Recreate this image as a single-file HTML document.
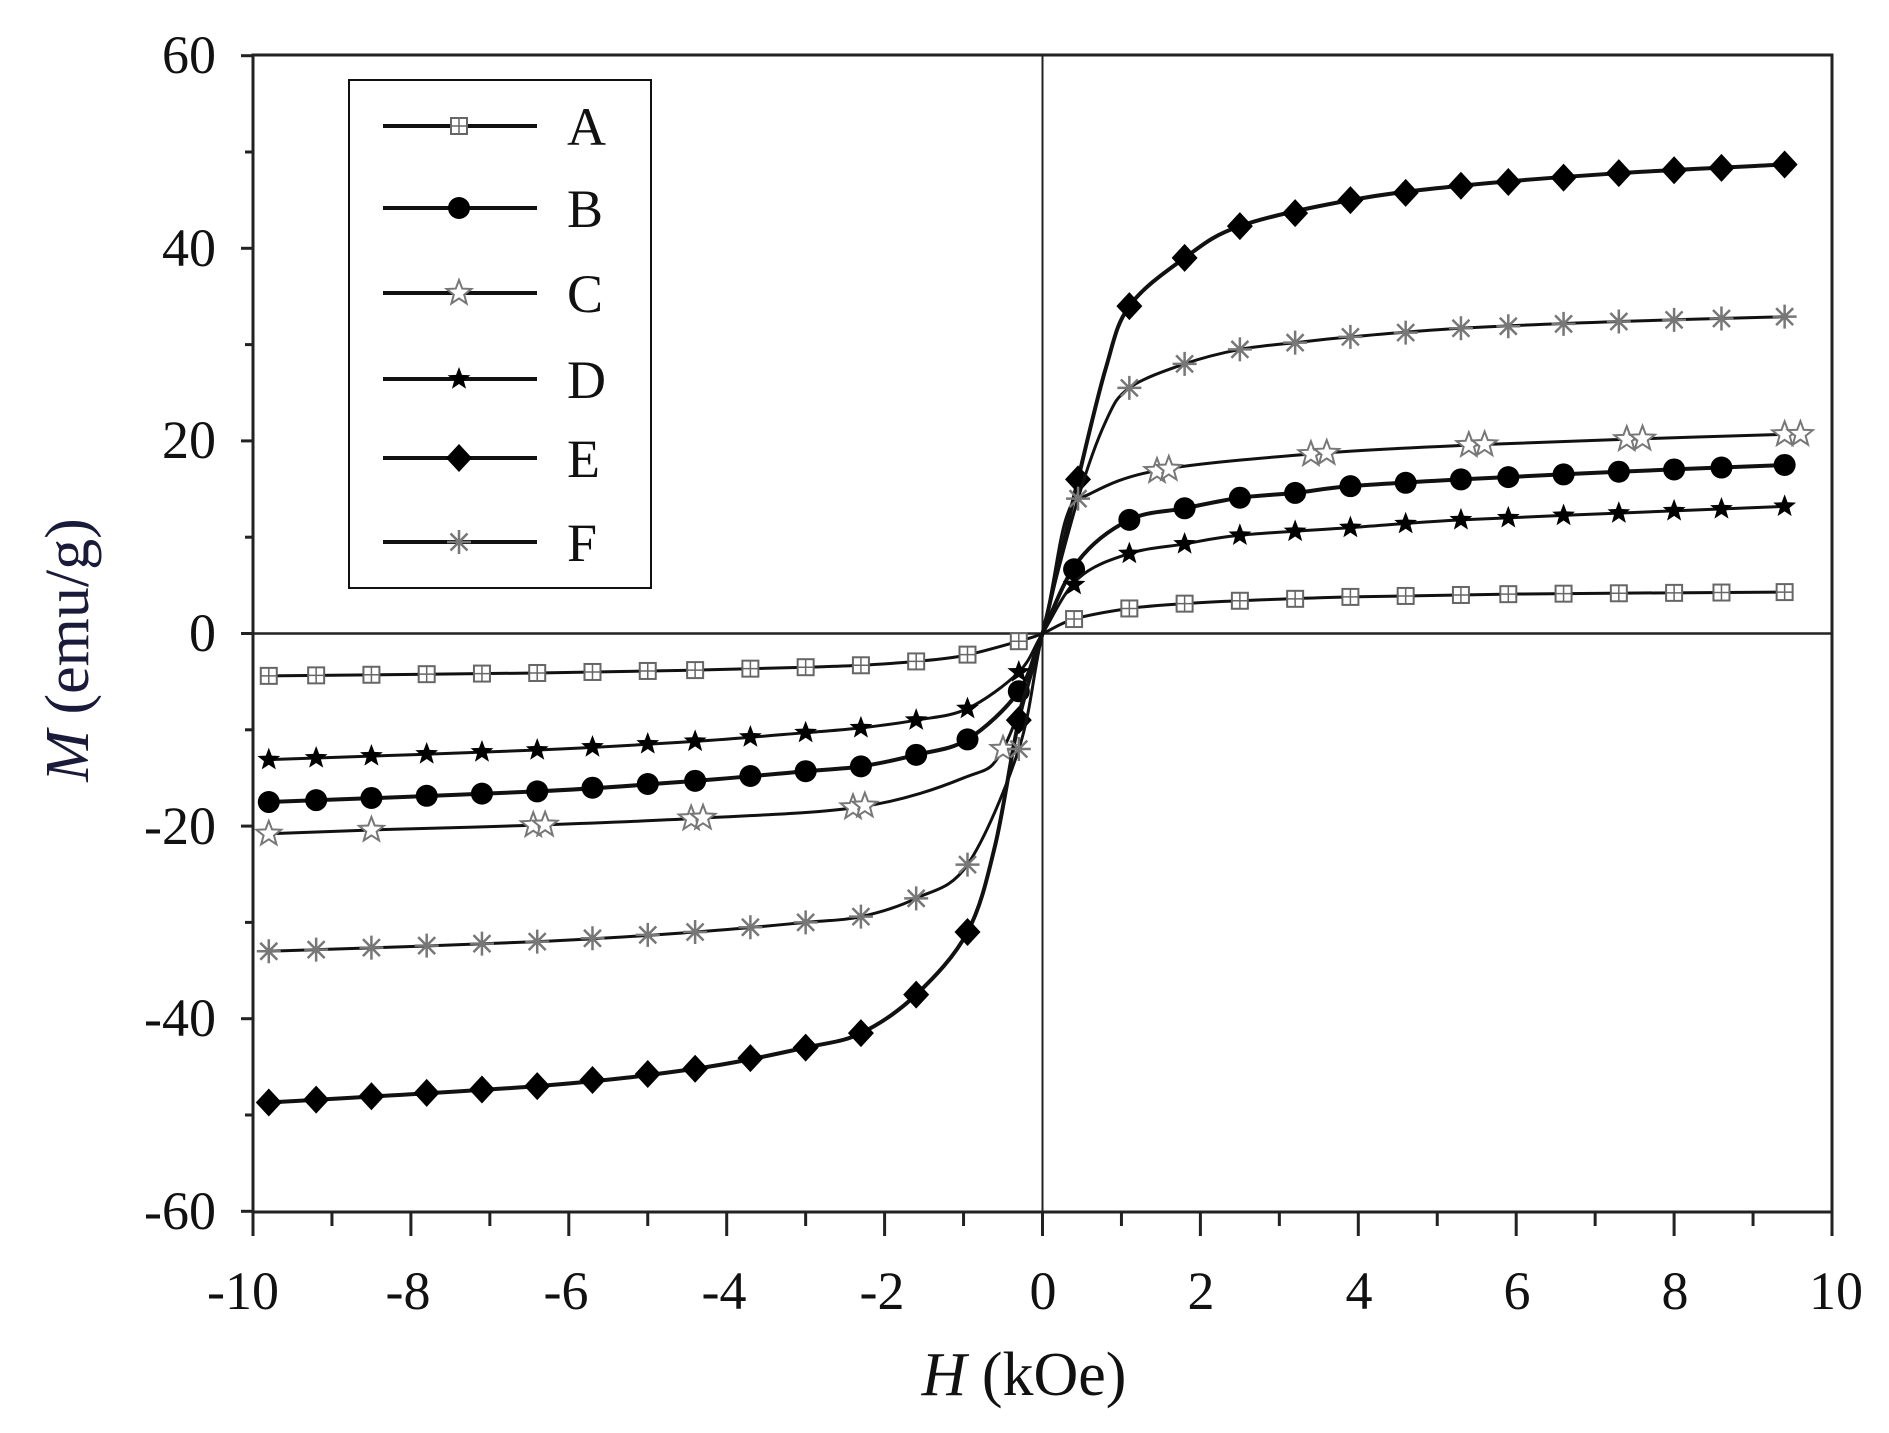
<!DOCTYPE html>
<html><head><meta charset="utf-8"><style>
html,body{margin:0;padding:0;background:#fff;}
svg{display:block;}
text{font-family:"Liberation Serif",serif;fill:#111;}
</style></head><body>
<svg id="s" width="1889" height="1433" viewBox="0 0 1889 1433" xmlns="http://www.w3.org/2000/svg">
<rect x="0" y="0" width="1889" height="1433" fill="#fff"/>
<g id="axes"></g>
<g id="curves"></g>
<g font-size="54" text-anchor="end">
<text x="216" y="73">60</text>
<text x="216" y="266">40</text>
<text x="216" y="458">20</text>
<text x="216" y="651">0</text>
<text x="216" y="844">-20</text>
<text x="216" y="1036">-40</text>
<text x="216" y="1229">-60</text>
</g>
<g font-size="54" text-anchor="middle">
<text x="243" y="1309">-10</text>
<text x="408" y="1309">-8</text>
<text x="566" y="1309">-6</text>
<text x="724" y="1309">-4</text>
<text x="882" y="1309">-2</text>
<text x="1043" y="1309">0</text>
<text x="1201" y="1309">2</text>
<text x="1359" y="1309">4</text>
<text x="1517" y="1309">6</text>
<text x="1675" y="1309">8</text>
<text x="1836" y="1309">10</text>
</g>
<text x="1024" y="1395" font-size="62" text-anchor="middle"><tspan font-style="italic">H</tspan> (kOe)</text>
<text transform="translate(88,650) rotate(-90)" font-size="62" text-anchor="middle" style="fill:#1a1a3a"><tspan font-style="italic">M</tspan> (emu/g)</text>
<rect x="349" y="80" width="302" height="508" fill="#fff" stroke="#111" stroke-width="2"/>
<g id="legend"></g>
<g font-size="54">
<text x="567" y="145">A</text>
<text x="567" y="227">B</text>
<text x="567" y="312">C</text>
<text x="567" y="398">D</text>
<text x="567" y="477">E</text>
<text x="567" y="561">F</text>
</g>
</svg>
<script>
const NS="http://www.w3.org/2000/svg";
const X=h=>1042.5+h*78.95, Y=m=>633.5-m*9.63;
function el(p,t,a){const e=document.createElementNS(NS,t);for(const k in a)e.setAttribute(k,a[k]);p.appendChild(e);return e;}
const ax=document.getElementById('axes');
el(ax,'rect',{x:253,y:55,width:1579,height:1157,fill:'none',stroke:'#222','stroke-width':3});
el(ax,'line',{x1:X(0),y1:55,x2:X(0),y2:1212,stroke:'#222','stroke-width':2});
el(ax,'line',{x1:253,y1:Y(0),x2:1832,y2:Y(0),stroke:'#222','stroke-width':2.5});
for(let h=-10;h<=10;h++){const maj=h%2==0;el(ax,'line',{x1:X(h),y1:1212,x2:X(h),y2:1212+(maj?24:14),stroke:'#222','stroke-width':3});}
for(let m=-60;m<=60;m+=10){const maj=m%20==0;el(ax,'line',{x1:253,y1:Y(m),x2:253-(maj?12:8),y2:Y(m),stroke:'#222','stroke-width':3});}
const S={
A:[[-9.8,-4.4],[-6.4,-4.1],[-4.4,-3.8],[-3,-3.5],[-2.3,-3.3],[-1.6,-2.9],[-1,-2.3],[-0.3,-0.8],[0,0],[0.4,1.5],[1.1,2.6],[1.8,3.1],[2.5,3.4],[3.9,3.8],[6,4.1],[9.4,4.3]],
B:[[-9.8,-17.5],[-6.4,-16.4],[-4.4,-15.3],[-3,-14.3],[-2.3,-13.8],[-1.6,-12.6],[-0.95,-11],[-0.3,-6],[0,0],[0.45,7.5],[1.1,11.8],[1.8,13],[2.5,14.1],[3.2,14.6],[3.9,15.3],[5.3,16],[7.3,16.8],[9.4,17.5]],
C:[[-9.8,-20.8],[-8.5,-20.4],[-6.4,-19.9],[-4.4,-19.2],[-2.3,-18],[-1,-15],[-0.5,-12],[0,0],[0.3,12],[0.6,14.5],[1.5,17],[3.5,18.7],[5.5,19.6],[7.5,20.2],[9.5,20.7]],
D:[[-9.8,-13.1],[-6.4,-12.1],[-4.4,-11.2],[-3,-10.3],[-2.3,-9.8],[-1.6,-9],[-0.95,-7.8],[-0.3,-4],[0,0],[0.45,5.7],[1.1,8.3],[1.8,9.3],[2.5,10.2],[3.9,11],[5.3,11.8],[7.3,12.5],[9.4,13.2]],
E:[[-9.8,-48.7],[-6.4,-47],[-4.4,-45.2],[-3,-43],[-2.3,-41.5],[-1.6,-37.5],[-0.95,-31],[-0.6,-22],[-0.3,-9],[0,0],[0.2,7],[0.45,16],[0.8,27.5],[1.1,34],[1.8,39],[2.5,42.3],[3.9,45],[5.3,46.5],[7.3,47.8],[9.4,48.7]],
F:[[-9.8,-33],[-6.4,-32],[-4.4,-31],[-3,-30],[-2.3,-29.4],[-1.6,-27.5],[-0.95,-24],[-0.3,-12],[0,0],[0.45,14],[0.8,22],[1.1,25.5],[1.8,28],[2.5,29.5],[3.2,30.2],[3.9,30.8],[5.3,31.7],[7.3,32.4],[9.4,32.9]]};
function path(pts){const p=pts.map(q=>[X(q[0]),Y(q[1])]);let d=`M${p[0][0]},${p[0][1]}`;
for(let i=0;i<p.length-1;i++){const p0=p[i-1]||p[i],p1=p[i],p2=p[i+1],p3=p[i+2]||p2;
d+=` C${p1[0]+(p2[0]-p0[0])/6},${p1[1]+(p2[1]-p0[1])/6} ${p2[0]-(p3[0]-p1[0])/6},${p2[1]-(p3[1]-p1[1])/6} ${p2[0]},${p2[1]}`;}return d;}
function interp(pts,h){for(let i=0;i<pts.length-1;i++){if(h>=pts[i][0]&&h<=pts[i+1][0]){const t=(h-pts[i][0])/(pts[i+1][0]-pts[i][0]);return pts[i][1]+t*(pts[i+1][1]-pts[i][1]);}}return pts[h<0?0:pts.length-1][1];}
function star(cx,cy,r){let d='';for(let i=0;i<10;i++){const a=-Math.PI/2+i*Math.PI/5,rr=i%2?r*0.42:r;d+=(i?'L':'M')+(cx+rr*Math.cos(a))+','+(cy+rr*Math.sin(a));}return d+'Z';}
function marker(g,k,x,y){
if(k=='A'){el(g,'rect',{x:x-8,y:y-8,width:16,height:16,fill:'#fff',stroke:'#666','stroke-width':2});el(g,'path',{d:`M${x-8},${y}H${x+8}M${x},${y-8}V${y+8}`,stroke:'#666','stroke-width':1.5});}
else if(k=='B')el(g,'circle',{cx:x,cy:y,r:11,fill:'#000'});
else if(k=='C')el(g,'path',{d:star(x,y,13),fill:'#fff',stroke:'#777','stroke-width':2});
else if(k=='D')el(g,'path',{d:star(x,y,12),fill:'#000'});
else if(k=='E')el(g,'path',{d:`M${x},${y-14}L${x+13},${y}L${x},${y+14}L${x-13},${y}Z`,fill:'#000'});
else if(k=='F'){let d='';for(let i=0;i<4;i++){const a=i*Math.PI/4;d+=`M${x-12*Math.cos(a)},${y-12*Math.sin(a)}L${x+12*Math.cos(a)},${y+12*Math.sin(a)}`;}el(g,'path',{d:d,stroke:'#777','stroke-width':2.5});}
}
const cg=document.getElementById('curves');
const pos=[1.1,1.8,2.5,3.2,3.9,4.6,5.3,5.9,6.6,7.3,8.0,8.6,9.4],neg=[-9.8,-9.2,-8.5,-7.8,-7.1,-6.4,-5.7,-5.0,-4.4,-3.7,-3.0,-2.3,-1.6,-0.95];
for(const k of ['A','B','C','D','E','F']){
const w=(k=='E'||k=='B')?4:3;
el(cg,'path',{d:path(S[k]),fill:'none',stroke:'#111','stroke-width':w});
let xs;
if(k=='C')xs=[1.45,1.6,3.4,3.6,5.4,5.6,7.4,7.6,9.4,9.6,-9.8,-8.5,-6.45,-6.3,-4.45,-4.3,-2.4,-2.25,-0.5];
else xs=neg.concat([-0.3,(k=='E'||k=='F')?0.45:0.4]).concat(pos);
for(const h of xs)marker(cg,k,X(h),Y(interp(S[k],h)));
}
const lg=document.getElementById('legend');
[126,208,293,379,458,542].forEach((y,i)=>{const k='ABCDEF'[i];el(lg,'line',{x1:383,y1:y,x2:537,y2:y,stroke:'#111','stroke-width':4});marker(lg,k,459,y);});
</script>
</body></html>
